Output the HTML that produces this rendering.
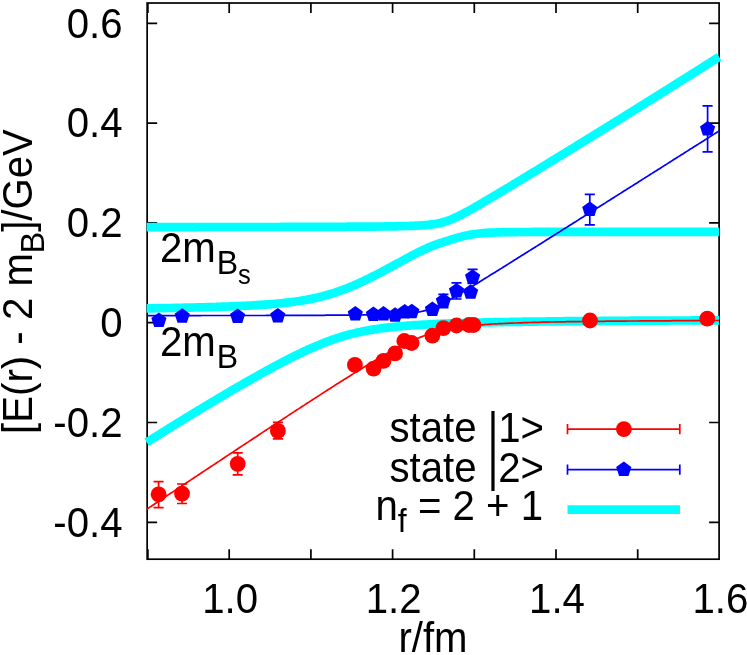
<!DOCTYPE html>
<html><head><meta charset="utf-8"><title>plot</title>
<style>
html,body{margin:0;padding:0;background:#fff;}
body{width:747px;height:655px;overflow:hidden;}
svg{display:block;will-change:transform;}
text{font-family:"Liberation Sans",sans-serif;font-size:42.2px;fill:#000;}
.sub{font-size:33.6px;}
.sub2{font-size:26.8px;}
</style></head><body>
<svg width="747" height="655" viewBox="0 0 747 655">
<rect width="747" height="655" fill="#fff"/>
<defs><clipPath id="c"><rect x="146.4" y="3.0" width="573.9" height="556.2"/></clipPath></defs>

<g fill="none" stroke="#000" stroke-width="1.7">
<rect x="147.15" y="3.0" width="571.95" height="556.20"/>
<path d="M147.9,559.2 v-10 M147.9,3.0 v10 M229.2,559.2 v-10 M229.2,3.0 v10 M310.9,559.2 v-10 M310.9,3.0 v10 M392.6,559.2 v-10 M392.6,3.0 v10 M474.3,559.2 v-10 M474.3,3.0 v10 M556.0,559.2 v-10 M556.0,3.0 v10 M637.7,559.2 v-10 M637.7,3.0 v10 M147.15,522.3 h10 M719.1,522.3 h-10 M147.15,422.5 h10 M719.1,422.5 h-10 M147.15,322.7 h10 M719.1,322.7 h-10 M147.15,222.9 h10 M719.1,222.9 h-10 M147.15,123.1 h10 M719.1,123.1 h-10 M147.15,23.3 h10 M719.1,23.3 h-10"/></g>
<g fill="none" stroke="#00ffff" stroke-width="8.7" stroke-linejoin="round">
<path d="M146.7,227.1 L148.5,227.1 L150.3,227.1 L152.1,227.1 L153.9,227.1 L155.7,227.1 L157.5,227.1 L159.3,227.1 L161.1,227.1 L162.8,227.1 L164.6,227.1 L166.4,227.1 L168.2,227.1 L170.0,227.1 L171.8,227.1 L173.6,227.1 L175.4,227.1 L177.2,227.1 L179.0,227.1 L180.8,227.1 L182.6,227.1 L184.4,227.1 L186.2,227.1 L188.0,227.1 L189.8,227.1 L191.6,227.1 L193.4,227.1 L195.1,227.1 L196.9,227.1 L198.7,227.0 L200.5,227.0 L202.3,227.0 L204.1,227.0 L205.9,227.0 L207.7,227.0 L209.5,227.0 L211.3,227.0 L213.1,227.0 L214.9,227.0 L216.7,227.0 L218.5,227.0 L220.3,227.0 L222.1,227.0 L223.9,227.0 L225.7,227.0 L227.4,227.0 L229.2,227.0 L231.0,227.0 L232.8,227.0 L234.6,227.0 L236.4,227.0 L238.2,227.0 L240.0,227.0 L241.8,227.0 L243.6,227.0 L245.4,227.0 L247.2,227.0 L249.0,227.0 L250.8,227.0 L252.6,227.0 L254.4,227.0 L256.2,227.0 L258.0,227.0 L259.7,227.0 L261.5,227.0 L263.3,227.0 L265.1,227.0 L266.9,227.0 L268.7,227.0 L270.5,227.0 L272.3,227.0 L274.1,227.0 L275.9,227.0 L277.7,227.0 L279.5,227.0 L281.3,226.9 L283.1,226.9 L284.9,226.9 L286.7,226.9 L288.5,226.9 L290.2,226.9 L292.0,226.9 L293.8,226.9 L295.6,226.9 L297.4,226.9 L299.2,226.9 L301.0,226.9 L302.8,226.9 L304.6,226.9 L306.4,226.9 L308.2,226.9 L310.0,226.9 L311.8,226.9 L313.6,226.9 L315.4,226.9 L317.2,226.9 L319.0,226.9 L320.8,226.9 L322.5,226.8 L324.3,226.8 L326.1,226.8 L327.9,226.8 L329.7,226.8 L331.5,226.8 L333.3,226.8 L335.1,226.8 L336.9,226.8 L338.7,226.8 L340.5,226.8 L342.3,226.8 L344.1,226.8 L345.9,226.8 L347.7,226.7 L349.5,226.7 L351.3,226.7 L353.1,226.7 L354.8,226.7 L356.6,226.7 L358.4,226.7 L360.2,226.7 L362.0,226.7 L363.8,226.6 L365.6,226.6 L367.4,226.6 L369.2,226.6 L371.0,226.6 L372.8,226.6 L374.6,226.6 L376.4,226.5 L378.2,226.5 L380.0,226.5 L381.8,226.5 L383.6,226.5 L385.3,226.4 L387.1,226.4 L388.9,226.4 L390.7,226.4 L392.5,226.3 L394.3,226.3 L396.1,226.3 L397.9,226.2 L399.7,226.2 L401.5,226.2 L403.3,226.1 L405.1,226.1 L406.9,226.0 L408.7,226.0 L410.5,225.9 L412.3,225.8 L414.1,225.8 L415.9,225.7 L417.6,225.6 L419.4,225.5 L421.2,225.4 L423.0,225.3 L424.8,225.1 L426.6,225.0 L428.4,224.8 L430.2,224.6 L432.0,224.4 L433.8,224.2 L435.6,223.9 L437.4,223.6 L439.2,223.2 L441.0,222.8 L442.8,222.3 L444.6,221.8 L446.4,221.2 L448.2,220.6 L449.9,219.9 L451.7,219.2 L453.5,218.4 L455.3,217.6 L457.1,216.8 L458.9,215.9 L460.7,215.0 L462.5,214.1 L464.3,213.1 L466.1,212.1 L467.9,211.2 L469.7,210.2 L471.5,209.2 L473.3,208.2 L475.1,207.1 L476.9,206.1 L478.7,205.1 L480.5,204.0 L482.2,203.0 L484.0,201.9 L485.8,200.9 L487.6,199.8 L489.4,198.8 L491.2,197.7 L493.0,196.6 L494.8,195.6 L496.6,194.5 L498.4,193.4 L500.2,192.4 L502.0,191.3 L503.8,190.2 L505.6,189.1 L507.4,188.0 L509.2,187.0 L511.0,185.9 L512.7,184.8 L514.5,183.7 L516.3,182.6 L518.1,181.5 L519.9,180.5 L521.7,179.4 L523.5,178.3 L525.3,177.2 L527.1,176.1 L528.9,175.0 L530.7,173.9 L532.5,172.8 L534.3,171.7 L536.1,170.7 L537.9,169.6 L539.7,168.5 L541.5,167.4 L543.3,166.3 L545.0,165.2 L546.8,164.1 L548.6,163.0 L550.4,161.9 L552.2,160.8 L554.0,159.7 L555.8,158.6 L557.6,157.5 L559.4,156.4 L561.2,155.3 L563.0,154.2 L564.8,153.1 L566.6,152.0 L568.4,150.9 L570.2,149.8 L572.0,148.7 L573.8,147.6 L575.6,146.5 L577.3,145.4 L579.1,144.3 L580.9,143.2 L582.7,142.1 L584.5,141.0 L586.3,139.9 L588.1,138.8 L589.9,137.7 L591.7,136.6 L593.5,135.5 L595.3,134.3 L597.1,133.2 L598.9,132.1 L600.7,131.0 L602.5,129.9 L604.3,128.8 L606.1,127.7 L607.8,126.6 L609.6,125.5 L611.4,124.4 L613.2,123.2 L615.0,122.1 L616.8,121.0 L618.6,119.9 L620.4,118.8 L622.2,117.7 L624.0,116.6 L625.8,115.4 L627.6,114.3 L629.4,113.2 L631.2,112.1 L633.0,111.0 L634.8,109.9 L636.6,108.7 L638.4,107.6 L640.1,106.5 L641.9,105.4 L643.7,104.3 L645.5,103.1 L647.3,102.0 L649.1,100.9 L650.9,99.8 L652.7,98.7 L654.5,97.5 L656.3,96.4 L658.1,95.3 L659.9,94.2 L661.7,93.0 L663.5,91.9 L665.3,90.8 L667.1,89.7 L668.9,88.5 L670.7,87.4 L672.4,86.3 L674.2,85.2 L676.0,84.0 L677.8,82.9 L679.6,81.8 L681.4,80.7 L683.2,79.5 L685.0,78.4 L686.8,77.3 L688.6,76.1 L690.4,75.0 L692.2,73.9 L694.0,72.7 L695.8,71.6 L697.6,70.5 L699.4,69.4 L701.2,68.2 L703.0,67.1 L704.7,66.0 L706.5,64.8 L708.3,63.7 L710.1,62.6 L711.9,61.4 L713.7,60.3 L715.5,59.1 L717.3,58.0 L719.1,56.9"/><path d="M146.7,308.3 L148.5,308.3 L150.3,308.3 L152.1,308.3 L153.9,308.2 L155.7,308.2 L157.5,308.2 L159.3,308.2 L161.1,308.1 L162.8,308.1 L164.6,308.1 L166.4,308.1 L168.2,308.0 L170.0,308.0 L171.8,308.0 L173.6,307.9 L175.4,307.9 L177.2,307.9 L179.0,307.8 L180.8,307.8 L182.6,307.8 L184.4,307.7 L186.2,307.7 L188.0,307.6 L189.8,307.6 L191.6,307.6 L193.4,307.5 L195.1,307.5 L196.9,307.4 L198.7,307.4 L200.5,307.4 L202.3,307.3 L204.1,307.3 L205.9,307.2 L207.7,307.2 L209.5,307.1 L211.3,307.1 L213.1,307.0 L214.9,307.0 L216.7,306.9 L218.5,306.8 L220.3,306.8 L222.1,306.7 L223.9,306.7 L225.7,306.6 L227.4,306.5 L229.2,306.5 L231.0,306.4 L232.8,306.3 L234.6,306.3 L236.4,306.2 L238.2,306.1 L240.0,306.0 L241.8,305.9 L243.6,305.8 L245.4,305.8 L247.2,305.7 L249.0,305.6 L250.8,305.5 L252.6,305.4 L254.4,305.3 L256.2,305.2 L258.0,305.1 L259.7,304.9 L261.5,304.8 L263.3,304.7 L265.1,304.6 L266.9,304.4 L268.7,304.3 L270.5,304.2 L272.3,304.0 L274.1,303.9 L275.9,303.7 L277.7,303.5 L279.5,303.4 L281.3,303.2 L283.1,303.0 L284.9,302.8 L286.7,302.6 L288.5,302.4 L290.2,302.2 L292.0,302.0 L293.8,301.7 L295.6,301.5 L297.4,301.2 L299.2,301.0 L301.0,300.7 L302.8,300.4 L304.6,300.1 L306.4,299.8 L308.2,299.4 L310.0,299.1 L311.8,298.7 L313.6,298.4 L315.4,298.0 L317.2,297.6 L319.0,297.1 L320.8,296.7 L322.5,296.3 L324.3,295.8 L326.1,295.3 L327.9,294.8 L329.7,294.3 L331.5,293.7 L333.3,293.2 L335.1,292.6 L336.9,292.0 L338.7,291.3 L340.5,290.7 L342.3,290.1 L344.1,289.4 L345.9,288.7 L347.7,288.0 L349.5,287.3 L351.3,286.5 L353.1,285.8 L354.8,285.0 L356.6,284.2 L358.4,283.4 L360.2,282.6 L362.0,281.7 L363.8,280.9 L365.6,280.0 L367.4,279.2 L369.2,278.3 L371.0,277.4 L372.8,276.5 L374.6,275.6 L376.4,274.7 L378.2,273.7 L380.0,272.8 L381.8,271.9 L383.6,270.9 L385.3,270.0 L387.1,269.0 L388.9,268.0 L390.7,267.1 L392.5,266.1 L394.3,265.1 L396.1,264.1 L397.9,263.2 L399.7,262.2 L401.5,261.2 L403.3,260.2 L405.1,259.3 L406.9,258.3 L408.7,257.3 L410.5,256.4 L412.3,255.4 L414.1,254.5 L415.9,253.5 L417.6,252.6 L419.4,251.7 L421.2,250.9 L423.0,250.0 L424.8,249.2 L426.6,248.4 L428.4,247.6 L430.2,246.8 L432.0,246.1 L433.8,245.4 L435.6,244.7 L437.4,244.1 L439.2,243.5 L441.0,242.9 L442.8,242.3 L444.6,241.7 L446.4,241.1 L448.2,240.6 L449.9,240.0 L451.7,239.5 L453.5,238.9 L455.3,238.4 L457.1,237.9 L458.9,237.3 L460.7,236.9 L462.5,236.4 L464.3,235.9 L466.1,235.5 L467.9,235.2 L469.7,234.8 L471.5,234.5 L473.3,234.2 L475.1,234.0 L476.9,233.7 L478.7,233.5 L480.5,233.4 L482.2,233.2 L484.0,233.1 L485.8,232.9 L487.6,232.8 L489.4,232.7 L491.2,232.6 L493.0,232.6 L494.8,232.5 L496.6,232.4 L498.4,232.4 L500.2,232.3 L502.0,232.3 L503.8,232.2 L505.6,232.2 L507.4,232.2 L509.2,232.2 L511.0,232.1 L512.7,232.1 L514.5,232.1 L516.3,232.1 L518.1,232.0 L519.9,232.0 L521.7,232.0 L523.5,232.0 L525.3,232.0 L527.1,232.0 L528.9,232.0 L530.7,232.0 L532.5,231.9 L534.3,231.9 L536.1,231.9 L537.9,231.9 L539.7,231.9 L541.5,231.9 L543.3,231.9 L545.0,231.9 L546.8,231.9 L548.6,231.9 L550.4,231.9 L552.2,231.9 L554.0,231.9 L555.8,231.9 L557.6,231.9 L559.4,231.9 L561.2,231.9 L563.0,231.9 L564.8,231.9 L566.6,231.9 L568.4,231.9 L570.2,231.8 L572.0,231.8 L573.8,231.8 L575.6,231.8 L577.3,231.8 L579.1,231.8 L580.9,231.8 L582.7,231.8 L584.5,231.8 L586.3,231.8 L588.1,231.8 L589.9,231.8 L591.7,231.8 L593.5,231.8 L595.3,231.8 L597.1,231.8 L598.9,231.8 L600.7,231.8 L602.5,231.8 L604.3,231.8 L606.1,231.8 L607.8,231.8 L609.6,231.8 L611.4,231.8 L613.2,231.8 L615.0,231.8 L616.8,231.8 L618.6,231.8 L620.4,231.8 L622.2,231.8 L624.0,231.8 L625.8,231.8 L627.6,231.8 L629.4,231.8 L631.2,231.8 L633.0,231.8 L634.8,231.8 L636.6,231.8 L638.4,231.8 L640.1,231.8 L641.9,231.8 L643.7,231.8 L645.5,231.8 L647.3,231.8 L649.1,231.8 L650.9,231.8 L652.7,231.8 L654.5,231.8 L656.3,231.8 L658.1,231.8 L659.9,231.8 L661.7,231.8 L663.5,231.8 L665.3,231.8 L667.1,231.8 L668.9,231.8 L670.7,231.8 L672.4,231.8 L674.2,231.8 L676.0,231.8 L677.8,231.8 L679.6,231.8 L681.4,231.8 L683.2,231.8 L685.0,231.8 L686.8,231.8 L688.6,231.8 L690.4,231.8 L692.2,231.8 L694.0,231.8 L695.8,231.8 L697.6,231.8 L699.4,231.8 L701.2,231.8 L703.0,231.8 L704.7,231.8 L706.5,231.8 L708.3,231.8 L710.1,231.8 L711.9,231.8 L713.7,231.8 L715.5,231.8 L717.3,231.8 L719.1,231.8"/><path d="M146.7,442.3 L148.5,441.2 L150.3,440.1 L152.1,438.9 L153.9,437.8 L155.7,436.7 L157.5,435.6 L159.3,434.5 L161.1,433.3 L162.8,432.2 L164.6,431.1 L166.4,430.0 L168.2,428.9 L170.0,427.8 L171.8,426.6 L173.6,425.5 L175.4,424.4 L177.2,423.3 L179.0,422.2 L180.8,421.1 L182.6,420.0 L184.4,418.9 L186.2,417.8 L188.0,416.7 L189.8,415.6 L191.6,414.5 L193.4,413.4 L195.1,412.3 L196.9,411.3 L198.7,410.2 L200.5,409.1 L202.3,408.0 L204.1,406.9 L205.9,405.8 L207.7,404.8 L209.5,403.7 L211.3,402.6 L213.1,401.5 L214.9,400.5 L216.7,399.4 L218.5,398.3 L220.3,397.3 L222.1,396.2 L223.9,395.1 L225.7,394.1 L227.4,393.0 L229.2,392.0 L231.0,390.9 L232.8,389.9 L234.6,388.8 L236.4,387.8 L238.2,386.7 L240.0,385.7 L241.8,384.7 L243.6,383.6 L245.4,382.6 L247.2,381.6 L249.0,380.6 L250.8,379.5 L252.6,378.5 L254.4,377.5 L256.2,376.5 L258.0,375.5 L259.7,374.5 L261.5,373.5 L263.3,372.5 L265.1,371.5 L266.9,370.5 L268.7,369.6 L270.5,368.6 L272.3,367.6 L274.1,366.6 L275.9,365.7 L277.7,364.7 L279.5,363.8 L281.3,362.8 L283.1,361.9 L284.9,361.0 L286.7,360.0 L288.5,359.1 L290.2,358.2 L292.0,357.3 L293.8,356.4 L295.6,355.5 L297.4,354.7 L299.2,353.8 L301.0,352.9 L302.8,352.1 L304.6,351.2 L306.4,350.4 L308.2,349.6 L310.0,348.8 L311.8,348.0 L313.6,347.2 L315.4,346.4 L317.2,345.7 L319.0,344.9 L320.8,344.2 L322.5,343.5 L324.3,342.8 L326.1,342.1 L327.9,341.4 L329.7,340.7 L331.5,340.1 L333.3,339.4 L335.1,338.8 L336.9,338.2 L338.7,337.7 L340.5,337.1 L342.3,336.5 L344.1,336.0 L345.9,335.5 L347.7,335.0 L349.5,334.5 L351.3,334.1 L353.1,333.6 L354.8,333.2 L356.6,332.7 L358.4,332.3 L360.2,332.0 L362.0,331.6 L363.8,331.2 L365.6,330.9 L367.4,330.5 L369.2,330.2 L371.0,329.9 L372.8,329.6 L374.6,329.3 L376.4,329.1 L378.2,328.8 L380.0,328.5 L381.8,328.3 L383.6,328.1 L385.3,327.8 L387.1,327.6 L388.9,327.4 L390.7,327.2 L392.5,327.0 L394.3,326.8 L396.1,326.7 L397.9,326.5 L399.7,326.3 L401.5,326.2 L403.3,326.0 L405.1,325.9 L406.9,325.7 L408.7,325.6 L410.5,325.5 L412.3,325.3 L414.1,325.2 L415.9,325.1 L417.6,325.0 L419.4,324.9 L421.2,324.8 L423.0,324.7 L424.8,324.6 L426.6,324.5 L428.4,324.4 L430.2,324.3 L432.0,324.2 L433.8,324.1 L435.6,324.0 L437.4,323.9 L439.2,323.9 L441.0,323.8 L442.8,323.7 L444.6,323.6 L446.4,323.6 L448.2,323.5 L449.9,323.4 L451.7,323.4 L453.5,323.3 L455.3,323.2 L457.1,323.2 L458.9,323.1 L460.7,323.1 L462.5,323.0 L464.3,323.0 L466.1,322.9 L467.9,322.9 L469.7,322.8 L471.5,322.8 L473.3,322.7 L475.1,322.7 L476.9,322.6 L478.7,322.6 L480.5,322.5 L482.2,322.5 L484.0,322.4 L485.8,322.4 L487.6,322.4 L489.4,322.3 L491.2,322.3 L493.0,322.3 L494.8,322.2 L496.6,322.2 L498.4,322.2 L500.2,322.1 L502.0,322.1 L503.8,322.1 L505.6,322.0 L507.4,322.0 L509.2,322.0 L511.0,321.9 L512.7,321.9 L514.5,321.9 L516.3,321.8 L518.1,321.8 L519.9,321.8 L521.7,321.8 L523.5,321.7 L525.3,321.7 L527.1,321.7 L528.9,321.7 L530.7,321.6 L532.5,321.6 L534.3,321.6 L536.1,321.6 L537.9,321.5 L539.7,321.5 L541.5,321.5 L543.3,321.5 L545.0,321.5 L546.8,321.4 L548.6,321.4 L550.4,321.4 L552.2,321.4 L554.0,321.4 L555.8,321.3 L557.6,321.3 L559.4,321.3 L561.2,321.3 L563.0,321.3 L564.8,321.2 L566.6,321.2 L568.4,321.2 L570.2,321.2 L572.0,321.2 L573.8,321.2 L575.6,321.1 L577.3,321.1 L579.1,321.1 L580.9,321.1 L582.7,321.1 L584.5,321.1 L586.3,321.1 L588.1,321.0 L589.9,321.0 L591.7,321.0 L593.5,321.0 L595.3,321.0 L597.1,321.0 L598.9,321.0 L600.7,320.9 L602.5,320.9 L604.3,320.9 L606.1,320.9 L607.8,320.9 L609.6,320.9 L611.4,320.9 L613.2,320.9 L615.0,320.8 L616.8,320.8 L618.6,320.8 L620.4,320.8 L622.2,320.8 L624.0,320.8 L625.8,320.8 L627.6,320.8 L629.4,320.8 L631.2,320.7 L633.0,320.7 L634.8,320.7 L636.6,320.7 L638.4,320.7 L640.1,320.7 L641.9,320.7 L643.7,320.7 L645.5,320.7 L647.3,320.7 L649.1,320.6 L650.9,320.6 L652.7,320.6 L654.5,320.6 L656.3,320.6 L658.1,320.6 L659.9,320.6 L661.7,320.6 L663.5,320.6 L665.3,320.6 L667.1,320.6 L668.9,320.5 L670.7,320.5 L672.4,320.5 L674.2,320.5 L676.0,320.5 L677.8,320.5 L679.6,320.5 L681.4,320.5 L683.2,320.5 L685.0,320.5 L686.8,320.5 L688.6,320.5 L690.4,320.5 L692.2,320.4 L694.0,320.4 L695.8,320.4 L697.6,320.4 L699.4,320.4 L701.2,320.4 L703.0,320.4 L704.7,320.4 L706.5,320.4 L708.3,320.4 L710.1,320.4 L711.9,320.4 L713.7,320.4 L715.5,320.4 L717.3,320.3 L719.1,320.3"/></g>
<text transform="translate(160,262.2) scale(0.952,1)">2m<tspan class="sub" dx="1" dy="12">B<tspan class="sub2" dy="9.6">s</tspan></tspan></text>
<text transform="translate(160,356) scale(0.952,1)">2m<tspan class="sub" dx="1" dy="12">B</tspan></text>
<g fill="none" stroke-width="1.7" clip-path="url(#c)"><path d="M146.7,509.3 L148.5,508.1 L150.3,506.9 L152.1,505.7 L153.9,504.5 L155.7,503.3 L157.5,502.1 L159.3,500.9 L161.1,499.7 L162.8,498.5 L164.6,497.3 L166.4,496.1 L168.2,494.9 L170.0,493.7 L171.8,492.6 L173.6,491.4 L175.4,490.2 L177.2,489.0 L179.0,487.8 L180.8,486.6 L182.6,485.4 L184.4,484.2 L186.2,483.0 L188.0,481.8 L189.8,480.6 L191.6,479.4 L193.4,478.2 L195.1,477.0 L196.9,475.9 L198.7,474.7 L200.5,473.5 L202.3,472.3 L204.1,471.1 L205.9,469.9 L207.7,468.7 L209.5,467.5 L211.3,466.3 L213.1,465.1 L214.9,464.0 L216.7,462.8 L218.5,461.6 L220.3,460.4 L222.1,459.2 L223.9,458.0 L225.7,456.8 L227.4,455.6 L229.2,454.4 L231.0,453.3 L232.8,452.1 L234.6,450.9 L236.4,449.7 L238.2,448.5 L240.0,447.3 L241.8,446.1 L243.6,444.9 L245.4,443.8 L247.2,442.6 L249.0,441.4 L250.8,440.2 L252.6,439.0 L254.4,437.8 L256.2,436.7 L258.0,435.5 L259.7,434.3 L261.5,433.1 L263.3,431.9 L265.1,430.7 L266.9,429.6 L268.7,428.4 L270.5,427.2 L272.3,426.0 L274.1,424.8 L275.9,423.7 L277.7,422.5 L279.5,421.3 L281.3,420.1 L283.1,419.0 L284.9,417.8 L286.7,416.6 L288.5,415.4 L290.2,414.3 L292.0,413.1 L293.8,411.9 L295.6,410.7 L297.4,409.6 L299.2,408.4 L301.0,407.2 L302.8,406.1 L304.6,404.9 L306.4,403.7 L308.2,402.6 L310.0,401.4 L311.8,400.2 L313.6,399.1 L315.4,397.9 L317.2,396.8 L319.0,395.6 L320.8,394.4 L322.5,393.3 L324.3,392.1 L326.1,391.0 L327.9,389.8 L329.7,388.7 L331.5,387.5 L333.3,386.4 L335.1,385.2 L336.9,384.1 L338.7,383.0 L340.5,381.8 L342.3,380.7 L344.1,379.5 L345.9,378.4 L347.7,377.3 L349.5,376.2 L351.3,375.0 L353.1,373.9 L354.8,372.8 L356.6,371.7 L358.4,370.6 L360.2,369.5 L362.0,368.4 L363.8,367.3 L365.6,366.2 L367.4,365.1 L369.2,364.0 L371.0,362.9 L372.8,361.9 L374.6,360.8 L376.4,359.7 L378.2,358.7 L380.0,357.6 L381.8,356.6 L383.6,355.5 L385.3,354.5 L387.1,353.5 L388.9,352.5 L390.7,351.5 L392.5,350.5 L394.3,349.6 L396.1,348.6 L397.9,347.6 L399.7,346.7 L401.5,345.8 L403.3,344.9 L405.1,344.0 L406.9,343.1 L408.7,342.3 L410.5,341.4 L412.3,340.6 L414.1,339.8 L415.9,339.1 L417.6,338.3 L419.4,337.6 L421.2,336.9 L423.0,336.2 L424.8,335.5 L426.6,334.9 L428.4,334.3 L430.2,333.7 L432.0,333.1 L433.8,332.6 L435.6,332.1 L437.4,331.6 L439.2,331.1 L441.0,330.7 L442.8,330.2 L444.6,329.8 L446.4,329.4 L448.2,329.1 L449.9,328.7 L451.7,328.4 L453.5,328.1 L455.3,327.8 L457.1,327.5 L458.9,327.2 L460.7,327.0 L462.5,326.7 L464.3,326.5 L466.1,326.3 L467.9,326.1 L469.7,325.9 L471.5,325.7 L473.3,325.5 L475.1,325.4 L476.9,325.2 L478.7,325.0 L480.5,324.9 L482.2,324.8 L484.0,324.6 L485.8,324.5 L487.6,324.4 L489.4,324.3 L491.2,324.1 L493.0,324.0 L494.8,323.9 L496.6,323.8 L498.4,323.7 L500.2,323.6 L502.0,323.6 L503.8,323.5 L505.6,323.4 L507.4,323.3 L509.2,323.2 L511.0,323.2 L512.7,323.1 L514.5,323.0 L516.3,323.0 L518.1,322.9 L519.9,322.8 L521.7,322.8 L523.5,322.7 L525.3,322.7 L527.1,322.6 L528.9,322.5 L530.7,322.5 L532.5,322.4 L534.3,322.4 L536.1,322.4 L537.9,322.3 L539.7,322.3 L541.5,322.2 L543.3,322.2 L545.0,322.1 L546.8,322.1 L548.6,322.1 L550.4,322.0 L552.2,322.0 L554.0,322.0 L555.8,321.9 L557.6,321.9 L559.4,321.9 L561.2,321.8 L563.0,321.8 L564.8,321.8 L566.6,321.7 L568.4,321.7 L570.2,321.7 L572.0,321.7 L573.8,321.6 L575.6,321.6 L577.3,321.6 L579.1,321.6 L580.9,321.5 L582.7,321.5 L584.5,321.5 L586.3,321.5 L588.1,321.4 L589.9,321.4 L591.7,321.4 L593.5,321.4 L595.3,321.4 L597.1,321.3 L598.9,321.3 L600.7,321.3 L602.5,321.3 L604.3,321.3 L606.1,321.2 L607.8,321.2 L609.6,321.2 L611.4,321.2 L613.2,321.2 L615.0,321.2 L616.8,321.1 L618.6,321.1 L620.4,321.1 L622.2,321.1 L624.0,321.1 L625.8,321.1 L627.6,321.0 L629.4,321.0 L631.2,321.0 L633.0,321.0 L634.8,321.0 L636.6,321.0 L638.4,321.0 L640.1,320.9 L641.9,320.9 L643.7,320.9 L645.5,320.9 L647.3,320.9 L649.1,320.9 L650.9,320.9 L652.7,320.9 L654.5,320.9 L656.3,320.8 L658.1,320.8 L659.9,320.8 L661.7,320.8 L663.5,320.8 L665.3,320.8 L667.1,320.8 L668.9,320.8 L670.7,320.8 L672.4,320.7 L674.2,320.7 L676.0,320.7 L677.8,320.7 L679.6,320.7 L681.4,320.7 L683.2,320.7 L685.0,320.7 L686.8,320.7 L688.6,320.7 L690.4,320.7 L692.2,320.6 L694.0,320.6 L695.8,320.6 L697.6,320.6 L699.4,320.6 L701.2,320.6 L703.0,320.6 L704.7,320.6 L706.5,320.6 L708.3,320.6 L710.1,320.6 L711.9,320.6 L713.7,320.6 L715.5,320.5 L717.3,320.5 L719.1,320.5" stroke="#ff0000"/><path d="M146.7,315.6 L148.5,315.6 L150.3,315.6 L152.1,315.6 L153.9,315.6 L155.7,315.6 L157.5,315.6 L159.3,315.6 L161.1,315.6 L162.8,315.6 L164.6,315.6 L166.4,315.6 L168.2,315.6 L170.0,315.6 L171.8,315.6 L173.6,315.6 L175.4,315.6 L177.2,315.6 L179.0,315.6 L180.8,315.6 L182.6,315.6 L184.4,315.6 L186.2,315.6 L188.0,315.6 L189.8,315.6 L191.6,315.6 L193.4,315.6 L195.1,315.6 L196.9,315.6 L198.7,315.6 L200.5,315.6 L202.3,315.5 L204.1,315.5 L205.9,315.5 L207.7,315.5 L209.5,315.5 L211.3,315.5 L213.1,315.5 L214.9,315.5 L216.7,315.5 L218.5,315.5 L220.3,315.5 L222.1,315.5 L223.9,315.5 L225.7,315.5 L227.4,315.5 L229.2,315.5 L231.0,315.5 L232.8,315.5 L234.6,315.5 L236.4,315.5 L238.2,315.5 L240.0,315.5 L241.8,315.5 L243.6,315.5 L245.4,315.5 L247.2,315.5 L249.0,315.5 L250.8,315.5 L252.6,315.5 L254.4,315.5 L256.2,315.5 L258.0,315.5 L259.7,315.5 L261.5,315.5 L263.3,315.5 L265.1,315.5 L266.9,315.4 L268.7,315.4 L270.5,315.4 L272.3,315.4 L274.1,315.4 L275.9,315.4 L277.7,315.4 L279.5,315.4 L281.3,315.4 L283.1,315.4 L284.9,315.4 L286.7,315.4 L288.5,315.4 L290.2,315.4 L292.0,315.4 L293.8,315.4 L295.6,315.4 L297.4,315.4 L299.2,315.4 L301.0,315.4 L302.8,315.3 L304.6,315.3 L306.4,315.3 L308.2,315.3 L310.0,315.3 L311.8,315.3 L313.6,315.3 L315.4,315.3 L317.2,315.3 L319.0,315.3 L320.8,315.3 L322.5,315.3 L324.3,315.3 L326.1,315.2 L327.9,315.2 L329.7,315.2 L331.5,315.2 L333.3,315.2 L335.1,315.2 L336.9,315.2 L338.7,315.2 L340.5,315.2 L342.3,315.1 L344.1,315.1 L345.9,315.1 L347.7,315.1 L349.5,315.1 L351.3,315.1 L353.1,315.0 L354.8,315.0 L356.6,315.0 L358.4,315.0 L360.2,315.0 L362.0,315.0 L363.8,314.9 L365.6,314.9 L367.4,314.9 L369.2,314.9 L371.0,314.8 L372.8,314.8 L374.6,314.8 L376.4,314.7 L378.2,314.7 L380.0,314.7 L381.8,314.6 L383.6,314.6 L385.3,314.5 L387.1,314.5 L388.9,314.4 L390.7,314.3 L392.5,314.3 L394.3,314.2 L396.1,314.1 L397.9,314.0 L399.7,314.0 L401.5,313.9 L403.3,313.7 L405.1,313.6 L406.9,313.5 L408.7,313.3 L410.5,313.1 L412.3,312.9 L414.1,312.7 L415.9,312.5 L417.6,312.2 L419.4,311.9 L421.2,311.5 L423.0,311.1 L424.8,310.6 L426.6,310.1 L428.4,309.5 L430.2,308.9 L432.0,308.2 L433.8,307.5 L435.6,306.8 L437.4,306.0 L439.2,305.1 L441.0,304.2 L442.8,303.3 L444.6,302.4 L446.4,301.4 L448.2,300.4 L449.9,299.4 L451.7,298.4 L453.5,297.4 L455.3,296.4 L457.1,295.3 L458.9,294.3 L460.7,293.2 L462.5,292.2 L464.3,291.1 L466.1,290.0 L467.9,288.9 L469.7,287.9 L471.5,286.8 L473.3,285.7 L475.1,284.6 L476.9,283.5 L478.7,282.4 L480.5,281.3 L482.2,280.2 L484.0,279.1 L485.8,278.0 L487.6,276.9 L489.4,275.7 L491.2,274.6 L493.0,273.5 L494.8,272.4 L496.6,271.3 L498.4,270.2 L500.2,269.1 L502.0,267.9 L503.8,266.8 L505.6,265.7 L507.4,264.6 L509.2,263.4 L511.0,262.3 L512.7,261.2 L514.5,260.1 L516.3,259.0 L518.1,257.8 L519.9,256.7 L521.7,255.6 L523.5,254.5 L525.3,253.3 L527.1,252.2 L528.9,251.1 L530.7,249.9 L532.5,248.8 L534.3,247.7 L536.1,246.6 L537.9,245.4 L539.7,244.3 L541.5,243.2 L543.3,242.1 L545.0,240.9 L546.8,239.8 L548.6,238.7 L550.4,237.5 L552.2,236.4 L554.0,235.3 L555.8,234.1 L557.6,233.0 L559.4,231.9 L561.2,230.7 L563.0,229.6 L564.8,228.5 L566.6,227.4 L568.4,226.2 L570.2,225.1 L572.0,224.0 L573.8,222.8 L575.6,221.7 L577.3,220.6 L579.1,219.4 L580.9,218.3 L582.7,217.2 L584.5,216.0 L586.3,214.9 L588.1,213.8 L589.9,212.6 L591.7,211.5 L593.5,210.4 L595.3,209.2 L597.1,208.1 L598.9,207.0 L600.7,205.8 L602.5,204.7 L604.3,203.6 L606.1,202.4 L607.8,201.3 L609.6,200.2 L611.4,199.0 L613.2,197.9 L615.0,196.8 L616.8,195.6 L618.6,194.5 L620.4,193.4 L622.2,192.2 L624.0,191.1 L625.8,190.0 L627.6,188.8 L629.4,187.7 L631.2,186.6 L633.0,185.4 L634.8,184.3 L636.6,183.2 L638.4,182.0 L640.1,180.9 L641.9,179.8 L643.7,178.6 L645.5,177.5 L647.3,176.4 L649.1,175.2 L650.9,174.1 L652.7,172.9 L654.5,171.8 L656.3,170.7 L658.1,169.5 L659.9,168.4 L661.7,167.3 L663.5,166.1 L665.3,165.0 L667.1,163.9 L668.9,162.7 L670.7,161.6 L672.4,160.5 L674.2,159.3 L676.0,158.2 L677.8,157.1 L679.6,155.9 L681.4,154.8 L683.2,153.7 L685.0,152.5 L686.8,151.4 L688.6,150.2 L690.4,149.1 L692.2,148.0 L694.0,146.8 L695.8,145.7 L697.6,144.6 L699.4,143.4 L701.2,142.3 L703.0,141.2 L704.7,140.0 L706.5,138.9 L708.3,137.8 L710.1,136.6 L711.9,135.5 L713.7,134.4 L715.5,133.2 L717.3,132.1 L719.1,130.9" stroke="#0000ff"/></g>
<g fill="none" stroke="#ff0000" stroke-width="1.7"><path d="M158.6,481.6 V507.7 M153.55,481.6 H163.65 M153.55,507.7 H163.65"/><path d="M182.05,484 V503.5 M177.00,484 H187.10 M177.00,503.5 H187.10"/><path d="M237.7,452.8 V474.9 M232.65,452.8 H242.75 M232.65,474.9 H242.75"/><path d="M277.9,422.3 V438.9 M272.85,422.3 H282.95 M272.85,438.9 H282.95"/></g>
<g fill="#ff0000"><circle cx="158.6" cy="494.3" r="7.9"/><circle cx="182.05" cy="493.7" r="7.9"/><circle cx="237.7" cy="463.8" r="7.9"/><circle cx="277.9" cy="430.9" r="7.9"/><circle cx="354.9" cy="364.9" r="7.9"/><circle cx="373.6" cy="368.6" r="7.9"/><circle cx="383.5" cy="360.8" r="7.9"/><circle cx="395.1" cy="353.4" r="7.9"/><circle cx="404.3" cy="341.0" r="7.9"/><circle cx="411.6" cy="343.0" r="7.9"/><circle cx="432.4" cy="335.6" r="7.9"/><circle cx="443.4" cy="328.1" r="7.9"/><circle cx="456.5" cy="325.5" r="7.9"/><circle cx="469" cy="325.0" r="7.9"/><circle cx="473.5" cy="325.0" r="7.9"/><circle cx="590" cy="320.5" r="7.9"/><circle cx="707.3" cy="318.6" r="7.9"/></g>
<g fill="none" stroke="#0000ff" stroke-width="1.7"><path d="M443.4,294.4 V307.6 M438.35,294.4 H448.45 M438.35,307.6 H448.45"/><path d="M456.5,282.9 V299.0 M451.45,282.9 H461.55 M451.45,299.0 H461.55"/><path d="M472.6,269.3 V283.3 M467.55,269.3 H477.65 M467.55,283.3 H477.65"/><path d="M589.8,194.3 V224.8 M584.75,194.3 H594.85 M584.75,224.8 H594.85"/><path d="M707.6,105.8 V151.8 M702.55,105.8 H712.65 M702.55,151.8 H712.65"/></g>
<g fill="#0000ff"><polygon points="158.9,312.4 166.5,317.9 163.6,326.9 154.2,326.9 151.3,317.9"/><polygon points="182.2,308.2 189.8,313.7 186.9,322.7 177.5,322.7 174.6,313.7"/><polygon points="237.6,308.6 245.2,314.1 242.3,323.1 232.9,323.1 230.0,314.1"/><polygon points="277.8,307.9 285.4,313.4 282.5,322.4 273.1,322.4 270.2,313.4"/><polygon points="355.3,305.9 362.9,311.4 360.0,320.4 350.6,320.4 347.7,311.4"/><polygon points="373.4,306.6 381.0,312.1 378.1,321.1 368.7,321.1 365.8,312.1"/><polygon points="383.5,306.1 391.1,311.6 388.2,320.6 378.8,320.6 375.9,311.6"/><polygon points="395.1,307.2 402.7,312.7 399.8,321.7 390.4,321.7 387.5,312.7"/><polygon points="404.7,303.9 412.3,309.4 409.4,318.4 400.0,318.4 397.1,309.4"/><polygon points="411.8,303.7 419.4,309.2 416.5,318.2 407.1,318.2 404.2,309.2"/><polygon points="432.4,301.4 440.0,306.9 437.1,315.9 427.7,315.9 424.8,306.9"/><polygon points="443.4,293.0 451.0,298.5 448.1,307.5 438.7,307.5 435.8,298.5"/><polygon points="456.5,283.0 464.1,288.5 461.2,297.5 451.8,297.5 448.9,288.5"/><polygon points="470.6,284.2 478.2,289.7 475.3,298.7 465.9,298.7 463.0,289.7"/><polygon points="472.6,269.3 480.2,274.8 477.3,283.8 467.9,283.8 465.0,274.8"/><polygon points="589.8,201.4 597.4,206.9 594.5,215.9 585.1,215.9 582.2,206.9"/><polygon points="707.6,121.1 715.2,126.6 712.3,135.6 702.9,135.6 700.0,126.6"/></g>
<text transform="translate(544,442) scale(0.952,1)" text-anchor="end">state |1&gt;</text>
<text transform="translate(544,482) scale(0.952,1)" text-anchor="end">state |2&gt;</text>
<text transform="translate(375.5,519.6) scale(0.952,1)">n<tspan class="sub" dy="12">f</tspan><tspan dy="-12"> = 2 + 1</tspan></text>
<path d="M567.5,429.1 H679.8 M567.5,424 V434.2 M679.8,424 V434.2" stroke="#ff0000" stroke-width="1.7" fill="none"/><circle cx="623.9" cy="429.1" r="7.9" fill="#ff0000"/>
<path d="M567.5,469.6 H679.8 M567.5,464.5 V474.7 M679.8,464.5 V474.7" stroke="#0000ff" stroke-width="1.7" fill="none"/><g fill="#0000ff"><polygon points="623.8,461.6 631.4,467.1 628.5,476.1 619.1,476.1 616.2,467.1"/></g>
<path d="M567.5,509.6 H680" stroke="#00ffff" stroke-width="8.7" fill="none"/>
<text transform="translate(122.5,536.6) scale(0.952,1)" text-anchor="end">-0.4</text>
<text transform="translate(122.5,436.8) scale(0.952,1)" text-anchor="end">-0.2</text>
<text transform="translate(122.5,337.0) scale(0.952,1)" text-anchor="end">0</text>
<text transform="translate(122.5,237.2) scale(0.952,1)" text-anchor="end">0.2</text>
<text transform="translate(122.5,137.4) scale(0.952,1)" text-anchor="end">0.4</text>
<text transform="translate(122.5,37.6) scale(0.952,1)" text-anchor="end">0.6</text>
<text transform="translate(230.2,613.3) scale(0.952,1)" text-anchor="middle">1.0</text>
<text transform="translate(393.6,613.3) scale(0.952,1)" text-anchor="middle">1.2</text>
<text transform="translate(557.0,613.3) scale(0.952,1)" text-anchor="middle">1.4</text>
<text transform="translate(720.4,613.3) scale(0.952,1)" text-anchor="middle">1.6</text>
<text transform="translate(433,652.3) scale(0.952,1)" text-anchor="middle">r/fm</text>
<text transform="translate(31.5,281.5) rotate(-90) scale(0.952,1)" text-anchor="middle">[E(r) - 2 m<tspan class="sub" dy="12">B</tspan><tspan dy="-12">]/GeV</tspan></text>
</svg></body></html>
